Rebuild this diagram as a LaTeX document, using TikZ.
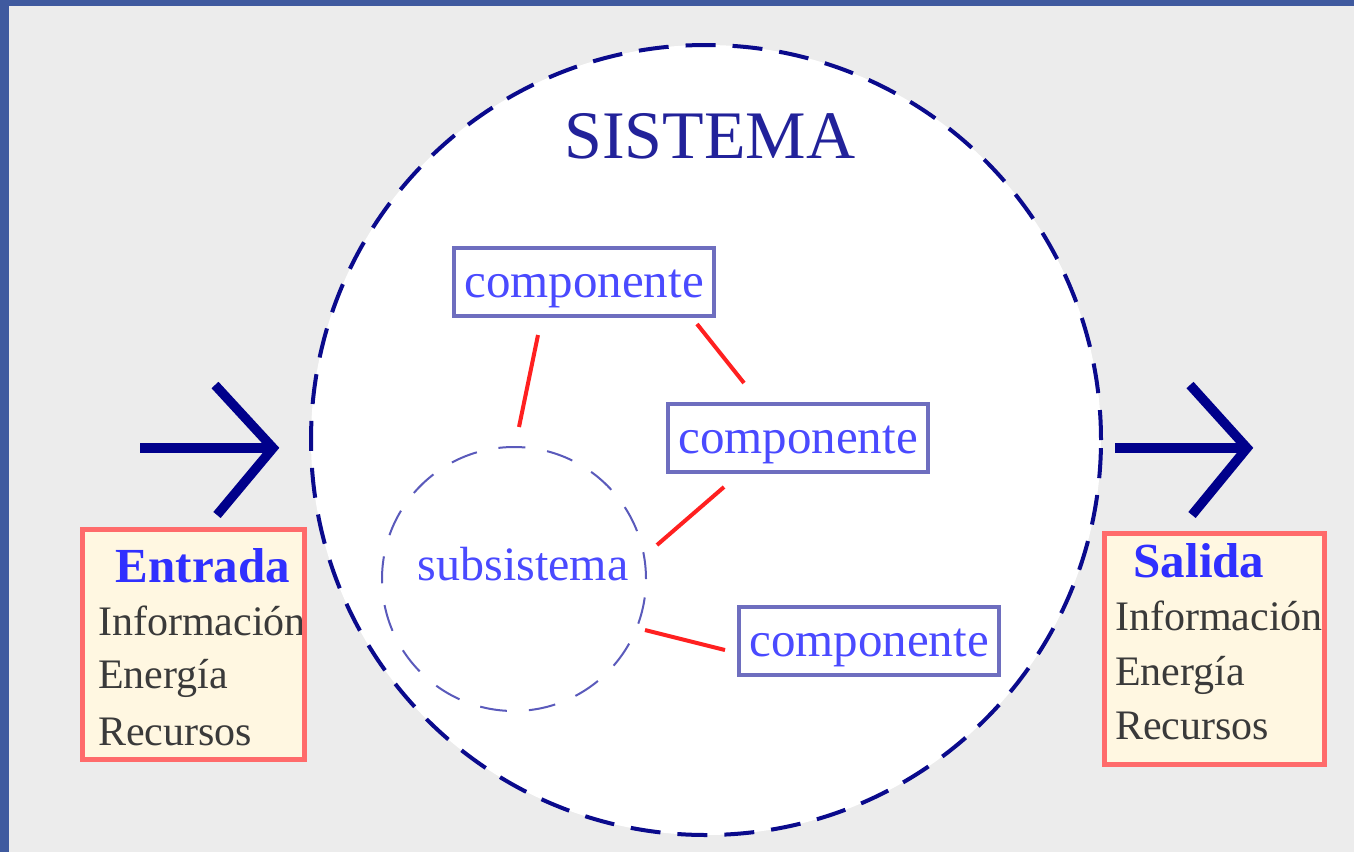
\documentclass[tikz,border=0pt]{standalone}
\usepackage{fontspec}
\setmainfont{Liberation Serif}
\definecolor{frameblue}{HTML}{3F5A9F}
\definecolor{bggray}{HTML}{ECECEC}
\definecolor{navy}{HTML}{0A0A8C}
\definecolor{sistxt}{HTML}{22229A}
\definecolor{compborder}{HTML}{6E6EBF}
\definecolor{comptext}{HTML}{4A4AFF}
\definecolor{subcol}{HTML}{5A5ABB}
\definecolor{redline}{HTML}{FF2020}
\definecolor{arrowblue}{HTML}{00008B}
\definecolor{boxfill}{HTML}{FFF7E1}
\definecolor{boxred}{HTML}{FF6B6B}
\definecolor{infotext}{HTML}{3A3A3A}
\definecolor{titleblue}{HTML}{3030FF}
\begin{document}
\begin{tikzpicture}[x=1pt,y=-1pt,
  compbox/.style={draw=compborder, line width=4pt, fill=white,
    minimum width=260pt, minimum height=68pt, inner sep=0pt,
    text=comptext, font=\fontsize{49}{58}\selectfont,
    text height=30pt, text depth=0pt},
  linkline/.style={draw=redline, line width=4pt},
  bigarrow/.style={draw=arrowblue, line width=9.5pt, line join=miter},
  ioframe/.style={fill=boxfill, minimum width=222pt, minimum height=230pt, inner sep=0pt},
  ioborder/.style={draw=boxred, line width=5pt},
  iotitle/.style={anchor=base, text=titleblue, font=\fontsize{49}{58}\selectfont\bfseries, inner sep=0pt},
  ioitem/.style={anchor=base west, text=infotext, font=\fontsize{42}{50}\selectfont, inner sep=0pt}
]
\useasboundingbox (0,0) rectangle (1354,852);
\fill[bggray] (0,0) rectangle (1354,852);
\fill[frameblue] (0,0) rectangle (1354,6);
\fill[frameblue] (0,0) rectangle (9,852);

% system
\node[circle, draw=navy, fill=white, line width=4pt, dash pattern=on 30pt off 17pt,
      minimum size=790pt, inner sep=0pt] (sys) at (706,440) {};
\node[anchor=base, text=sistxt, font=\fontsize{68}{80}\selectfont, inner sep=0pt] (title) at (710,158) {SISTEMA};

% subsystem
\node[circle, draw=subcol, line width=2pt, dash pattern=on 27pt off 22pt,
      minimum size=264pt, inner sep=0pt] (sub) at (514,579) {};
\node[anchor=base, text=comptext, font=\fontsize{48}{58}\selectfont, inner sep=0pt] (subt) at (523,580) {subsistema};

% components
\node[compbox] (c1) at (584,282) {componente};
\node[compbox] (c2) at (798,438) {componente};
\node[compbox] (c3) at (869,641) {componente};

% red links
\coordinate (r1a) at (538,335); \coordinate (r1b) at (519,427);
\coordinate (r2a) at (697,324); \coordinate (r2b) at (744,383);
\coordinate (r3a) at (724,487); \coordinate (r3b) at (657,545);
\coordinate (r4a) at (645,630); \coordinate (r4b) at (725,650);
\draw[linkline] (r1a) -- (r1b);
\draw[linkline] (r2a) -- (r2b);
\draw[linkline] (r3a) -- (r3b);
\draw[linkline] (r4a) -- (r4b);

% arrows
\coordinate (la0) at (140,448); \coordinate (latip) at (273,448);
\coordinate (lah1) at (215,385); \coordinate (lah2) at (217,515);
\draw[bigarrow] (la0) -- (latip);
\draw[bigarrow] (lah1) -- (latip) -- (lah2);
\coordinate (ra0) at (1115,448); \coordinate (ratip) at (1247,448);
\coordinate (rah1) at (1190,385); \coordinate (rah2) at (1192,515);
\draw[bigarrow] (ra0) -- (ratip);
\draw[bigarrow] (rah1) -- (ratip) -- (rah2);

% input box
\node[ioframe] (in) at (193.5,644.5) {};
\begin{scope}
\clip (in.north west) rectangle (in.south east);
\node[iotitle] (intitle) at (203,582) {Entrada};
\node[ioitem] (in1) at (98,635) {Información};
\node[ioitem] (in2) at (98,688) {Energía};
\node[ioitem] (in3) at (98,745) {Recursos};
\end{scope}
\draw[ioborder] (in.north west) rectangle (in.south east);

% output box
\node[ioframe, minimum width=220pt, minimum height=231pt] (out) at (1214.5,649) {};
\begin{scope}
\clip (out.north west) rectangle (out.south east);
\node[iotitle] (outtitle) at (1199,577) {Salida};
\node[ioitem] (out1) at (1115,630) {Información};
\node[ioitem] (out2) at (1115,685) {Energía};
\node[ioitem] (out3) at (1115,739) {Recursos};
\end{scope}
\draw[ioborder] (out.north west) rectangle (out.south east);
\end{tikzpicture}
\end{document}
